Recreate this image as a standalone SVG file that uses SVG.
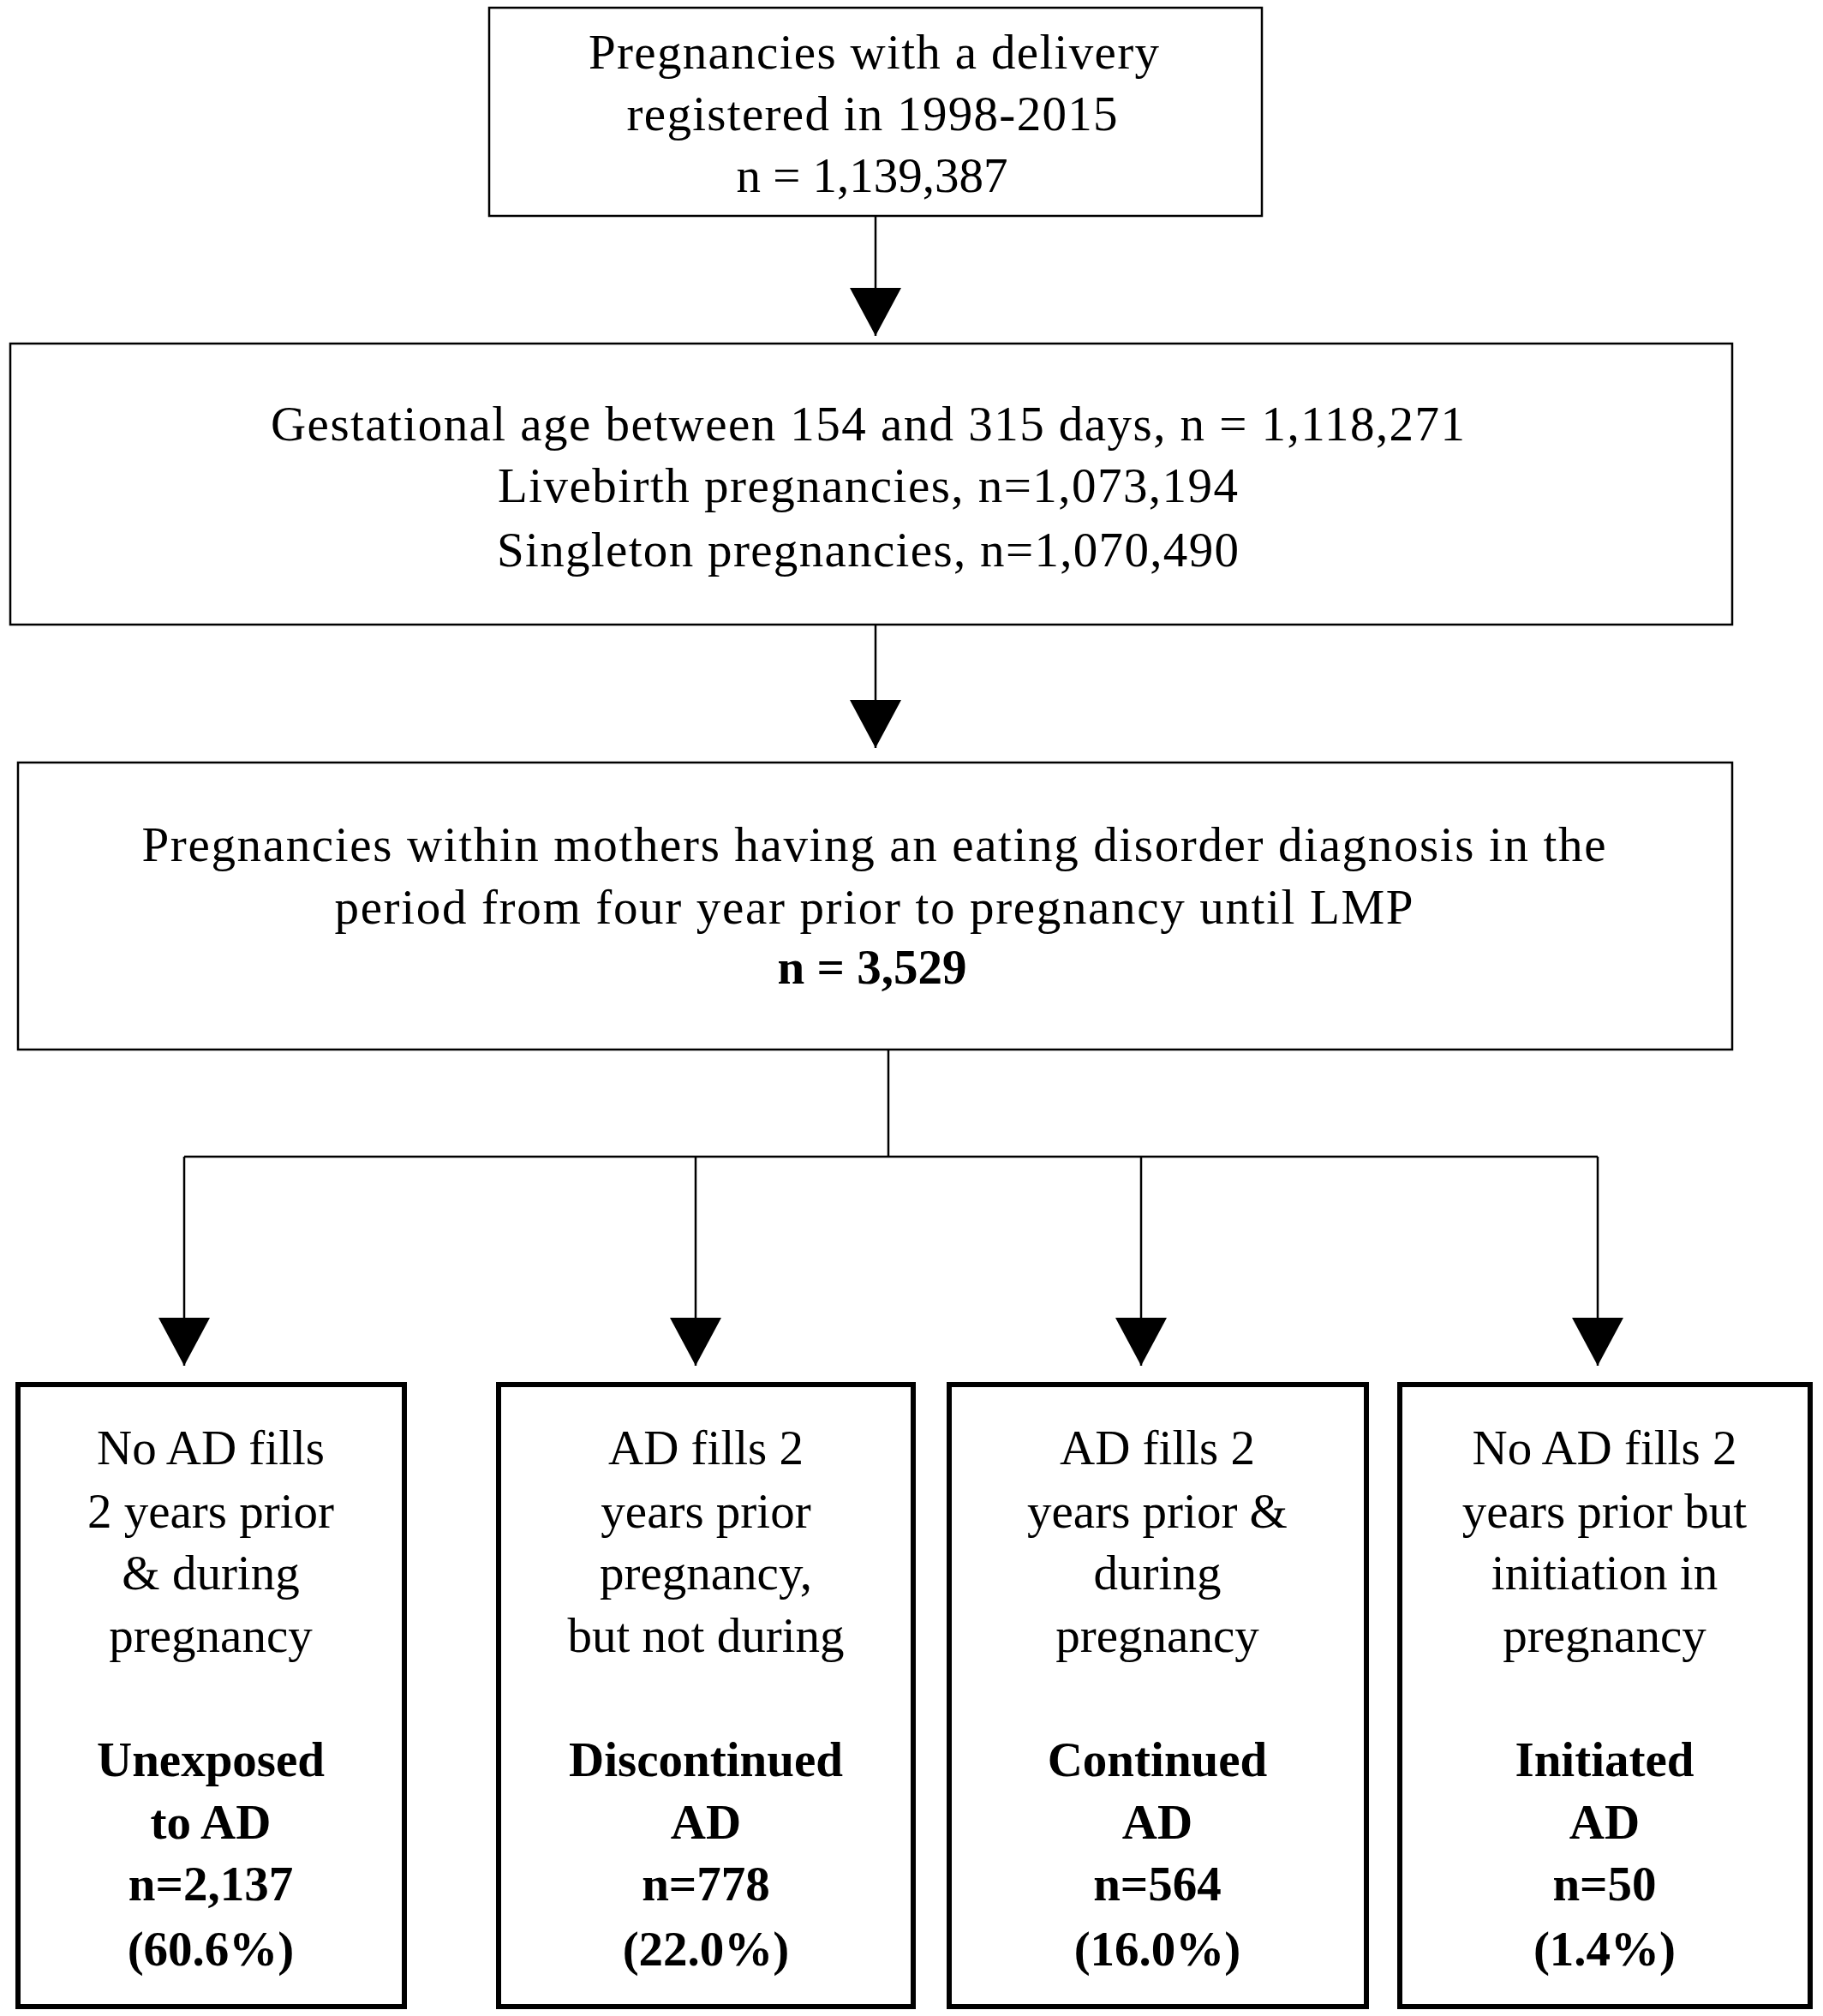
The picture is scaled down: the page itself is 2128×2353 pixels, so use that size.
<svg xmlns="http://www.w3.org/2000/svg" width="2128" height="2353" viewBox="0 0 2128 2353">
<style>
.bx{fill:#fff;stroke:#000;stroke-width:2.5}
.bb{fill:#fff;stroke:#000;stroke-width:6}
.t{font-family:"Liberation Serif","Times New Roman",serif;font-size:57px;fill:#000;text-anchor:middle}
.b{font-weight:bold}
.ln{fill:none;stroke:#000;stroke-width:2.5}
</style>
<defs>
<marker id="ah" markerUnits="userSpaceOnUse" markerWidth="60" markerHeight="56" refX="30" refY="56" orient="0" viewBox="0 0 60 56">
<path d="M0,0 L60,0 L30,56 Z" fill="#000"/>
</marker>
</defs>
<rect width="2128" height="2353" fill="#fff"/>
<g id="connectors">
<line class="ln" x1="1022" y1="252" x2="1022" y2="392" marker-end="url(#ah)"/>
<line class="ln" x1="1022" y1="729" x2="1022" y2="873" marker-end="url(#ah)"/>
<polyline class="ln" points="1037,1225 1037,1350"/>
<line class="ln" x1="215" y1="1350" x2="1865" y2="1350"/>
<line class="ln" x1="215" y1="1350" x2="215" y2="1594" marker-end="url(#ah)"/>
<line class="ln" x1="812" y1="1350" x2="812" y2="1594" marker-end="url(#ah)"/>
<line class="ln" x1="1332" y1="1350" x2="1332" y2="1594" marker-end="url(#ah)"/>
<line class="ln" x1="1865" y1="1350" x2="1865" y2="1594" marker-end="url(#ah)"/>
</g>
<g id="n1">
<rect class="bx" x="571" y="9" width="902" height="243"/>
<text class="t" x="1020" y="80" textLength="666" lengthAdjust="spacing">Pregnancies with a delivery</text>
<text class="t" x="1018" y="152" textLength="573" lengthAdjust="spacing">registered in 1998-2015</text>
<text class="t" x="1018" y="224">n = 1,139,387</text>
</g>
<g id="n2">
<rect class="bx" x="12" y="401" width="2010" height="328"/>
<text class="t" x="1013" y="514" textLength="1394" lengthAdjust="spacing">Gestational age between 154 and 315 days, n = 1,118,271</text>
<text class="t" x="1013" y="586" textLength="864" lengthAdjust="spacing">Livebirth pregnancies, n=1,073,194</text>
<text class="t" x="1013" y="661" textLength="866" lengthAdjust="spacing">Singleton pregnancies, n=1,070,490</text>
</g>
<g id="n3">
<rect class="bx" x="21" y="890" width="2001" height="335"/>
<text class="t" x="1020" y="1005" textLength="1709" lengthAdjust="spacing">Pregnancies within mothers having an eating disorder diagnosis in the</text>
<text class="t" x="1020" y="1078" textLength="1259" lengthAdjust="spacing">period from four year prior to pregnancy until LMP</text>
<text class="t b" x="1018" y="1148">n = 3,529</text>
</g>
<g id="n4">
<rect class="bb" x="21" y="1616" width="451" height="726"/>
<text class="t" x="246" y="1709">No AD fills</text>
<text class="t" x="246" y="1783">2 years prior</text>
<text class="t" x="246" y="1855">&amp; during</text>
<text class="t" x="246" y="1928">pregnancy</text>
<text class="t b" x="246" y="2073">Unexposed</text>
<text class="t b" x="246" y="2146">to AD</text>
<text class="t b" x="246" y="2218">n=2,137</text>
<text class="t b" x="246" y="2294">(60.6%)</text>
</g>
<g id="n5">
<rect class="bb" x="582" y="1616" width="484" height="726"/>
<text class="t" x="824" y="1709">AD fills 2</text>
<text class="t" x="824" y="1783">years prior</text>
<text class="t" x="824" y="1855">pregnancy,</text>
<text class="t" x="824" y="1928">but not during</text>
<text class="t b" x="824" y="2073">Discontinued</text>
<text class="t b" x="824" y="2146">AD</text>
<text class="t b" x="824" y="2218">n=778</text>
<text class="t b" x="824" y="2294">(22.0%)</text>
</g>
<g id="n6">
<rect class="bb" x="1108" y="1616" width="487" height="726"/>
<text class="t" x="1351" y="1709">AD fills 2</text>
<text class="t" x="1351" y="1783">years prior &amp;</text>
<text class="t" x="1351" y="1855">during</text>
<text class="t" x="1351" y="1928">pregnancy</text>
<text class="t b" x="1351" y="2073">Continued</text>
<text class="t b" x="1351" y="2146">AD</text>
<text class="t b" x="1351" y="2218">n=564</text>
<text class="t b" x="1351" y="2294">(16.0%)</text>
</g>
<g id="n7">
<rect class="bb" x="1634" y="1616" width="479" height="726"/>
<text class="t" x="1873" y="1709">No AD fills 2</text>
<text class="t" x="1873" y="1783">years prior but</text>
<text class="t" x="1873" y="1855">initiation in</text>
<text class="t" x="1873" y="1928">pregnancy</text>
<text class="t b" x="1873" y="2073">Initiated</text>
<text class="t b" x="1873" y="2146">AD</text>
<text class="t b" x="1873" y="2218">n=50</text>
<text class="t b" x="1873" y="2294">(1.4%)</text>
</g>
</svg>
